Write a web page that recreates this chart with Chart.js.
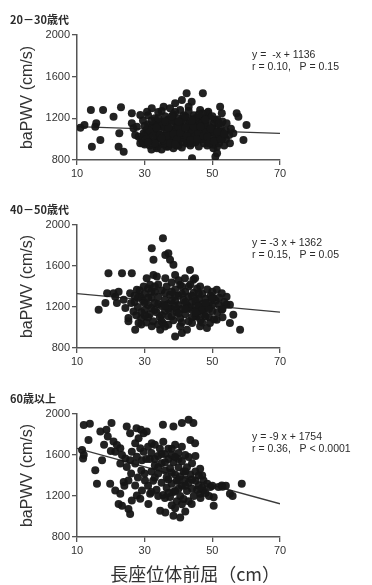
<!DOCTYPE html>
<html>
<head>
<meta charset="utf-8">
<script src="https://cdn.jsdelivr.net/npm/chart.js@4"></script>
<style>
  body { margin: 0; background: #fff; width: 372px; height: 585px; overflow: hidden; position: relative; }
  .painel { position: absolute; left: 0; width: 372px; }
</style>
</head>
<body>
<div class="painel" style="top:0;height:190px"><canvas id="g1"></canvas></div>
<div class="painel" style="top:190px;height:190px"><canvas id="g2"></canvas></div>
<div class="painel" style="top:379px;height:206px"><canvas id="g3"></canvas></div>
<script>
// Dados: [長座位体前屈 (cm), baPWV (cm/s)]
const titulos = ['20－30歳代', '40－50歳代', '60歳以上'];
const equacoes = ['y =  -x + 1136', 'y = -3 x + 1362', 'y = -9 x + 1754'];
const estatisticas = ['r = 0.10,   P = 0.15', 'r = 0.15,   P = 0.05', 'r = 0.36,   P < 0.0001'];
const ticksX = [10, 30, 50, 70];
const ticksY = [800, 1200, 1600, 2000];

// retas de regressão (pontas em x = 10 e x = 70)
const retaX = [10, 70];
const retaY1 = [1120, 1056];
const retaY2 = [1330, 1150];
const retaY3 = [1664, 1124];

const pontos1 = [
  [11,1110],[12.2,1136],[14.1,1280],[17.7,1280],[15.7,1152],[15.4,1120],[14.4,928],[16.9,992],[20.8,1216],[23,1306],
  [22.5,1056],[22.3,928],[23.8,880],[26.2,1248],[26.2,1152],[26.7,1104],[27.2,1040],[42.4,1440],[47.2,1440],[41,1376],
  [43.9,1360],[40.5,1280],[43,1312],[52.3,1312],[57.2,1248],[57.7,1216],[60.1,1136],[59.2,992],[56.2,1056],[44,816],
  [51.4,864],[50.9,832],[51.4,928],[28.7,1232],[30.7,1264],[32.1,1296],[35.6,1312],[37.5,1296],[39,1344],[46.4,1280],
  [48.8,1264],[47.8,1200],[50.8,1184],[52.8,1248],[54.2,1152],[52.8,1072],[55.2,960],[50.3,912],[33.6,912],[36.5,928],
  [38.5,912],[28.7,960],[28.2,1024],[27.7,1120],[29.7,1056],
  [29,1000],[29.5,1180],[30,950],[30.5,1090],[31,1230],[31,1010],[31.5,940],[32,1120],[32,1060],[32.5,980],
  [33,1200],[33,1150],[33.5,1030],[33.5,930],[34,1260],[34,1090],[34.5,970],[35,1170],[35,1040],[35.5,1120],
  [35.5,950],[36,1220],[36,1000],[36.5,1080],[36.5,1150],[37,930],[37,1190],[37.5,1060],[37.5,1010],[38,1130],
  [38,970],[38.5,1240],[38.5,1090],[39,1020],[39,1170],[39.5,940],[39.5,1110],[40,1200],[40,1050],[40,990],
  [40.5,1140],[41,1080],[41,920],[41.5,1230],[41.5,1010],[42,1160],[42,1060],[42.5,960],[42.5,1120],[43,1030],
  [43,1200],[43.5,1090],[43.5,940],[44,1150],[44,1000],[44.5,1060],[44.5,1230],[45,1110],[45,970],[45.5,1180],
  [45.5,1040],[46,1090],[46,930],[46.5,1210],[46.5,1000],[47,1140],[47,1060],[47.5,960],[47.5,1180],[48,1100],
  [48,1020],[48.5,1250],[48.5,940],[49,1130],[49,1060],[49.5,990],[49.5,1200],[50,1080],[50,950],[50.5,1150],
  [50.5,1030],[51,1110],[51,990],[51.5,1190],[52,1060],[52,960],[52.5,1120],[53,1010],[53,1170],[53.5,940],
  [54,1080],[54,1000],[55,1040],[55.5,1100],
  [30,1040],[31,1140],[32,900],[33,1080],[34,1010],[35,900],[36,1110],[37,1040],[38,1180],[39,1070],
  [40,1120],[41,1190],[42,1000],[43,1140],[44,1080],[45,1030],[46,1150],[47,1000],[48,1070],[49,960],
  [50,1100],[51,1050],[52,1010],[34,1150],[36,960],[38,1010],[40,940],[42,1220],[44,960],[46,1060],
  [48,1140],[33,960],[37,1110],[41,1040],[45,1200],[39,1260],[43,1270],[47,1250],[35,1270],[31,1060],
  [29.5,960],[30.5,1000],[31.5,1080],[32.5,1030],[33.5,1110],[34.5,1040],[35.5,990],[36.5,1030],[37.5,960],[38.5,1050],
  [39.5,1000],[40.5,1060],[41.5,970],[42.5,1030],[43.5,990],[44.5,1120],[45.5,1000],[46.5,1120],[47.5,1030],[48.5,1020],
  [49.5,1100],[50.5,980],[51.5,1070],[52.5,1000],[53.5,1050],[30,1130],[32,1180],[34,1200],[36,1170],[38,1220],
  [40,1170],[42,1110],[44,1180],[46,1240],[48,1190],[50,1220],[52,1150],[31,970],[35,1010],[39,950]
];

const pontos2 = [
  [16.4,1173],[19.3,1530],[23.3,1530],[26.2,1530],[18.4,1238],[18.9,1335],[20.8,1335],[21.3,1300],[21.8,1238],[22.3,1350],
  [23.8,1270],[24.3,1190],[25.7,1335],[25.2,1092],[26.7,1157],[27.7,1368],[28.2,1043],[27.2,978],[25.2,1060],
  [32.1,1773],[32.6,1660],[35.4,1870],[36.1,1708],[37,1724],[37.5,1660],[38.5,1611],[32.6,1513],[30.6,1481],[43.4,1562],
  [44.9,1481],[58.2,978],[55.2,1043],[56.2,1124],[54.2,1222],[39,913],[41,946],[40.5,1011],
  [50.3,1287],[51.3,1368],[52.8,1335],[54.2,1300],[55.2,1222],[52.8,1173],[51.3,1076],[49.3,1043],[48.4,995],[46.4,1011],
  [44,1043],[42.5,978],[45.4,1108],[46.4,1400],[44.4,1465],[41.9,1481],[40.5,1416],[39,1513],[36.1,1481],[33.6,1497],
  [31.6,1416],[29.7,1400],[28.7,1300],[32.1,1011],[34.6,978],[37,1027],
  [27,1250],[27.5,1120],[28,1200],[28.5,1360],[29,1090],[29.5,1260],[30,1170],[30,1330],[30.5,1050],[31,1220],
  [31,1380],[31.5,1130],[32,1290],[32,1190],[32.5,1060],[33,1350],[33,1240],[33.5,1150],[34,1420],[34,1300],
  [34.5,1100],[35,1210],[35,1360],[35.5,1040],[36,1270],[36,1160],[36.5,1400],[37,1230],[37,1110],[37.5,1320],
  [38,1180],[38,1440],[38.5,1070],[39,1260],[39,1370],[39.5,1150],[40,1220],[40,1310],[40.5,1090],[41,1400],
  [41,1180],[41.5,1270],[42,1130],[42,1350],[42.5,1220],[43,1060],[43,1300],[43.5,1420],[44,1170],[44,1250],
  [44.5,1340],[45,1110],[45,1210],[45.5,1380],[46,1280],[46,1160],[46.5,1070],[47,1330],[47,1230],[47.5,1130],
  [48,1280],[48,1190],[48.5,1370],[49,1240],[49,1100],[49.5,1310],[50,1160],[50,1220],[50.5,1080],[51,1260],
  [51.5,1150],[52,1220],[53,1100],[53.5,1250],
  [28,1290],[30,1240],[31,1100],[32,1350],[33,1170],[34,1230],[35,1120],[36,1340],[37,1180],[38,1260],
  [39,1200],[40,1140],[41,1330],[42,1250],[43,1190],[44,1310],[45,1260],[46,1210],[47,1170],[48,1110],
  [49,1180],[50,1290],[35,1060],[38,1110],[41,1050],[44,1100],[47,1050],[33,1400],[36,1210],[39,1310],
  [42,1180],[45,1150],[48,1240],[30,1120],[26,1240],[27,1310],[29,1150],[50,1350],[52,1290],[53,1180],
  [36,1010],[43,1400],[46,1330],[38,1350],[40,1460],[34,1030],[31,1290],[29,1030]
];

const pontos3 = [
  [12,1892],[13.8,1905],[13.4,1747],[11.5,1648],[12,1599],[11.8,1566],[15.4,1451],[15.9,1320],[17.4,1550],[16.9,1829],
  [18.7,1846],[20.2,1911],[19.1,1780],[20.8,1731],[21.8,1698],[21.3,1632],[22.8,1665],[23.3,1599],[22.8,1517],[24.3,1566],
  [24.7,1484],[25.7,1550],[26.2,1632],[24.7,1878],[25.7,1813],[27.6,1862],[28.9,1846],[30.6,1829],[29.7,1813],[28.2,1764],
  [27.2,1714],[28.7,1665],[29.7,1632],[27.7,1583],[29.2,1550],[27.2,1517],[19.8,1320],[21.3,1254],[22.8,1221],[23.8,1336],
  [25.2,1352],[22.3,1122],[23.3,1106],[25.2,1073],[25.7,1024],[26.2,1155],[27.7,1204],[28.7,1172],[27.2,1303],[29.2,1254],
  [31.1,1122],[31.6,1221],[30.1,1352],[32.1,1714],[35.4,1895],[38.5,1878],[41,1911],[43,1944],[44.4,1911],[43.5,1747],
  [44.9,1714],[34.6,1056],[36.1,1040],[38.5,1007],[40.5,991],[46.4,1467],[47.4,1352],[49.4,1287],[50.4,1188],[50.4,1106],
  [51.8,1287],[52.8,1303],[55.2,1221],[58.7,1320],[43.9,1122],[46.4,1221],[47.4,1254],
  [31,1680],[31.5,1560],[32,1440],[32,1620],[32.5,1350],[33,1700],[33,1500],[33.5,1260],[34,1590],[34,1420],
  [34.5,1660],[35,1330],[35,1520],[35.5,1210],[35.5,1730],[36,1450],[36,1610],[36.5,1280],[36.5,1380],[37,1560],
  [37,1660],[37.5,1190],[37.5,1470],[38,1320],[38,1600],[38.5,1240],[38.5,1530],[39,1410],[39,1700],[39.5,1150],
  [39.5,1350],[40,1480],[40,1270],[40,1620],[40.5,1200],[40.5,1390],[41,1540],[41,1300],[41.5,1440],[41.5,1170],
  [42,1360],[42,1600],[42.5,1250],[42.5,1480],[43,1330],[43,1150],[43.5,1410],[44,1270],[44,1520],[44.5,1200],
  [45,1350],[45,1440],[45.5,1260],[46,1400],[46,1300],[46.5,1180],[47,1280],[48,1230],[48.5,1320],[49,1200],
  [33,1380],[34,1200],[35,1610],[36,1180],[37,1360],[38,1430],[39,1250],[40,1560],[41,1120],[42,1440],
  [43,1580],[44,1360],[37,1230],[39,1580],[41,1680],[36,1530],[34,1480],[38,1110],[40,1350],[42,1300],
  [30,1420],[31,1300],[32,1240],[30.5,1560],[29,1450],[28,1380],[26,1420],[24,1300],[20,1640],[18,1700],
  [33,1560],[38,1660],[45,1590],[47,1400],[50,1300],[53,1290],[54,1300],[56,1200],[42,1050],[39,1080]
];

// Textos do painel desenhados no canvas (título e equação)
const pluginTextos = {
  id: 'textos',
  afterDraw(chart, args, opts) {
    const ctx = chart.ctx;
    ctx.save();
    ctx.fillStyle = '#2b2b2b';
    ctx.textBaseline = 'middle';
    ctx.font = 'bold 11px "Noto Sans CJK JP", Arial, sans-serif';
    ctx.fillText(opts.titulo, 10, 20);
    ctx.font = '10.5px Arial, "Liberation Sans", sans-serif';
    ctx.fillText(opts.equacao, 252, opts.yTexto);
    ctx.fillText(opts.estat, 252, opts.yTexto + 12);
    ctx.restore();
  }
};

function criarPainel(idCanvas, pontos, retaY, indice, alturaEixoX, yTexto, mostrarTituloX) {
  const ctx = document.getElementById(idCanvas).getContext('2d');
  return new Chart(ctx, {
    type: 'scatter',
    data: {
      datasets: [
        {
          data: pontos.map(p => ({ x: p[0], y: p[1] })),
          backgroundColor: 'rgba(22,22,22,0.95)',
          borderWidth: 0,
          pointRadius: 4,
          pointHoverRadius: 4
        },
        {
          type: 'line',
          data: retaX.map((x, i) => ({ x: x, y: retaY[i] })),
          borderColor: '#3a3a3a',
          borderWidth: 1.3,
          pointRadius: 0,
          fill: false
        }
      ]
    },
    options: {
      responsive: true,
      maintainAspectRatio: false,
      animation: false,
      events: [],
      layout: { padding: { left: 0, top: 35, right: 92, bottom: 0 } },
      plugins: {
        legend: { display: false },
        tooltip: { enabled: false },
        textos: { titulo: titulos[indice], equacao: equacoes[indice], estat: estatisticas[indice], yTexto: yTexto }
      },
      scales: {
        x: {
          type: 'linear',
          min: 10,
          max: 70,
          afterBuildTicks: s => { s.ticks = ticksX.map(v => ({ value: v })); },
          afterFit: s => { s.height = alturaEixoX; },
          grid: { display: true, drawOnChartArea: false, drawTicks: true, tickLength: 5, color: '#555', lineWidth: 1.3 },
          border: { display: true, color: '#555', width: 1.5 },
          ticks: { color: '#333', padding: 2, maxRotation: 0, callback: v => String(v), font: { family: 'Arial, "Liberation Sans", sans-serif', size: 11 } },
          title: {
            display: mostrarTituloX,
            text: '長座位体前屈（cm）',
            align: 'end',
            color: '#333',
            padding: { top: 8, bottom: 0 },
            font: { family: '"Noto Sans CJK JP", sans-serif', size: 18 }
          }
        },
        y: {
          type: 'linear',
          min: 800,
          max: 2000,
          afterBuildTicks: s => { s.ticks = ticksY.map(v => ({ value: v })); },
          afterFit: s => { s.width = 77; },
          grid: { display: true, drawOnChartArea: false, drawTicks: true, tickLength: 5, color: '#555', lineWidth: 1.3 },
          border: { display: true, color: '#555', width: 1.5 },
          ticks: { color: '#333', padding: 2, callback: v => String(v), font: { family: 'Arial, "Liberation Sans", sans-serif', size: 11 } },
          title: {
            display: true,
            text: 'baPWV (cm/s)',
            color: '#333',
            padding: { top: 18, bottom: 0 },
            font: { family: 'Arial, "Liberation Sans", sans-serif', size: 16 }
          }
        }
      }
    },
    plugins: [pluginTextos]
  });
}

criarPainel('g1', pontos1, retaY1, 0, 30, 55, false);
criarPainel('g2', pontos2, retaY2, 1, 32, 53, false);
criarPainel('g3', pontos3, retaY3, 2, 48, 58, true);
</script>
</body>
</html>
